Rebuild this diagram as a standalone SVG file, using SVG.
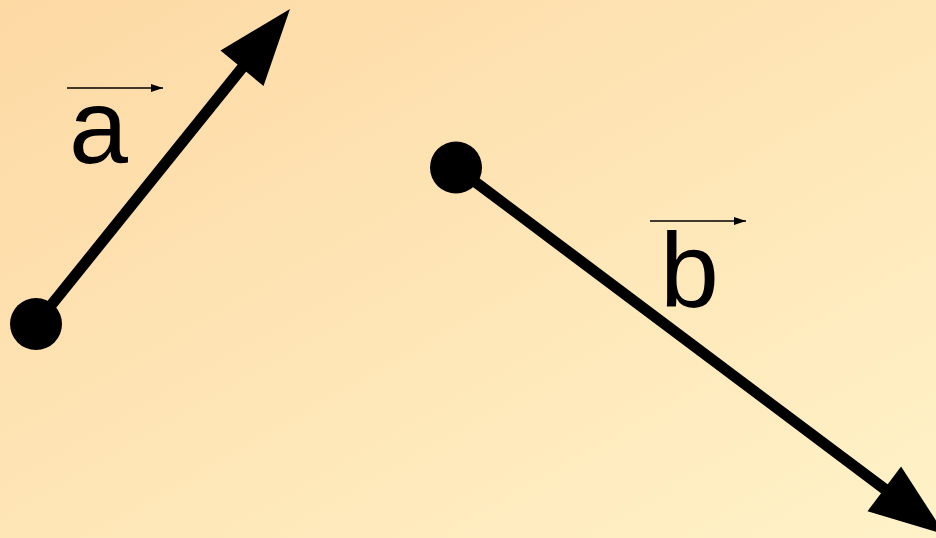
<svg xmlns="http://www.w3.org/2000/svg" width="936" height="538" viewBox="0 0 936 538">
<defs>
<linearGradient id="bg" x1="0" y1="0" x2="1" y2="1">
<stop offset="0" stop-color="#FDD9A4"/>
<stop offset="1" stop-color="#FFF2C8"/>
</linearGradient>
<marker id="small" viewBox="0 0 12 8" refX="12" refY="4" markerWidth="12" markerHeight="8" markerUnits="userSpaceOnUse" orient="auto">
<path d="M0,0 L12,4 L0,8 Z" fill="#000"/>
</marker>
<style>
.vec{stroke:#000;stroke-width:11;fill:none}
.head{fill:#000}
.lbl{font-family:"Liberation Sans",Arial,sans-serif;font-size:106px;fill:#000}
.over{stroke:#000;stroke-width:1.6;fill:none;marker-end:url(#small)}
</style>
</defs>
<rect width="936" height="538" fill="url(#bg)"/>
<g id="connectors">
<g id="vector-a">
<line class="vec" x1="36" y1="324" x2="246" y2="63"/>
<polygon class="head" points="290,9 220.5,50.5 263.5,86"/>
</g>
<g id="vector-b">
<line class="vec" x1="456" y1="167.5" x2="890" y2="493"/>
<polygon class="head" points="945,534.5 867.5,511.2 901.1,466.4"/>
</g>
</g>
<g id="dot-a"><circle cx="36" cy="324" r="26" fill="#000"/></g>
<g id="dot-b"><circle cx="456" cy="167.5" r="26" fill="#000"/></g>
<g id="label-a">
<text class="lbl" x="69" y="163">a</text>
<line class="over" x1="67" y1="88" x2="163" y2="88"/>
</g>
<g id="label-b">
<text class="lbl" x="660" y="307">b</text>
<line class="over" x1="650" y1="221" x2="746" y2="221"/>
</g>
</svg>
